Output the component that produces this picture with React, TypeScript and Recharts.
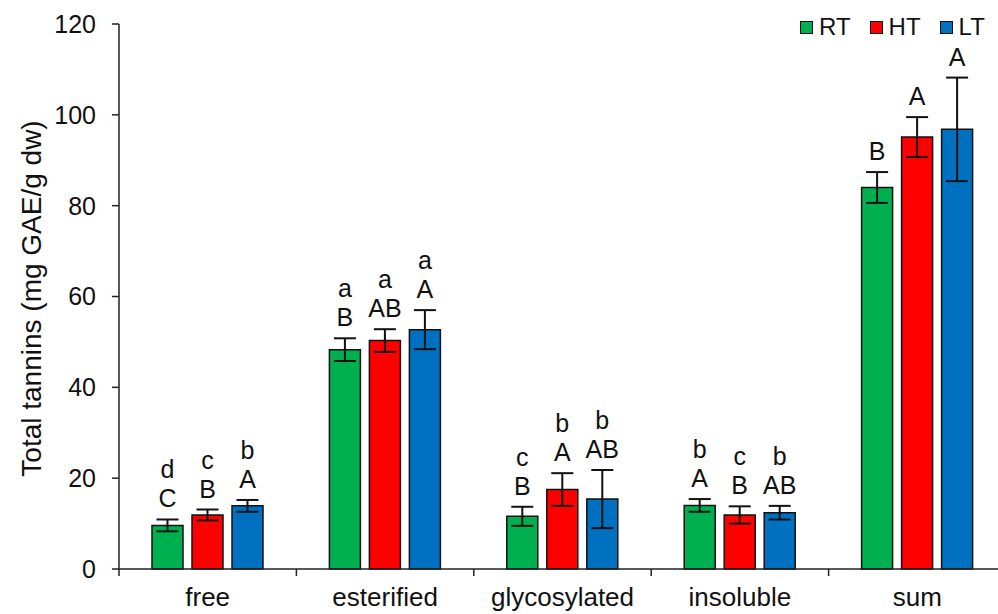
import React from 'react';
import { BarChart, Bar, XAxis, YAxis, ErrorBar, LabelList } from 'recharts';

// Fractions of total tannins (mg GAE/g dw) under three temperature regimes
const categories = ['free', 'esterified', 'glycosylated', 'insoluble', 'sum'];

const rtValues = [9.6, 48.3, 11.6, 14.0, 84.0];
const rtErrors = [1.3, 2.5, 2.1, 1.4, 3.4];
const htValues = [11.9, 50.3, 17.5, 11.9, 95.1];
const htErrors = [1.2, 2.5, 3.6, 1.9, 4.4];
const ltValues = [13.9, 52.7, 15.4, 12.4, 96.8];
const ltErrors = [1.3, 4.3, 6.4, 1.5, 11.4];

// Significance letters: upper-case line and lower-case line above each bar
const rtUpper = ['C', 'B', 'B', 'A', 'B'];
const htUpper = ['B', 'AB', 'A', 'B', 'A'];
const ltUpper = ['A', 'A', 'AB', 'AB', 'A'];
const rtLower = ['d', 'a', 'c', 'b', ''];
const htLower = ['c', 'a', 'b', 'c', ''];
const ltLower = ['b', 'a', 'b', 'b', ''];

const yTicks = [0, 20, 40, 60, 80, 100, 120];
// group boundaries (integers) and group centres (halves) on a 0..5 slot axis
const frameTicks = [0, 0.5, 1, 1.5, 2, 2.5, 3, 3.5, 4, 4.5, 5];

const FONT = '"Liberation Sans", Arial, Helvetica, sans-serif';

const series = [
  { key: 'RT', name: 'RT', color: '#00B050', values: rtValues, errors: rtErrors, upper: rtUpper, lower: rtLower },
  { key: 'HT', name: 'HT', color: '#FF0000', values: htValues, errors: htErrors, upper: htUpper, lower: htLower },
  { key: 'LT', name: 'LT', color: '#0070C0', values: ltValues, errors: ltErrors, upper: ltUpper, lower: ltLower },
];

const data = categories.map((name, i) => {
  const row: Record<string, string | number> = { name, slot: i + 0.5 };
  series.forEach((s) => {
    row[s.key] = s.values[i];
    row[s.key + 'Err'] = s.errors[i];
  });
  return row;
});

// Letters sit above the error bar cap; pixel scale taken from the bar itself
const makeLetters = (s: typeof series[number]) => (props: any) => {
  const vb = props.viewBox || {};
  const x = props.x ?? vb.x;
  const y = props.y ?? vb.y;
  const width = props.width ?? vb.width;
  const height = props.height ?? vb.height;
  const index = props.index;
  const value = s.values[index];
  if (x == null || y == null || !value) return null;
  const pxPerUnit = Math.abs(height) / value;
  const capTop = y - s.errors[index] * pxPerUnit;
  const cx = x + width / 2;
  const upperY = capTop - 12;
  const lowerY = upperY - 29;
  return (
    <g>
      <text x={cx} y={upperY} textAnchor="middle" fontFamily={FONT} fontSize={25} fill="#111">
        {s.upper[index]}
      </text>
      {s.lower[index] ? (
        <text x={cx} y={lowerY} textAnchor="middle" fontFamily={FONT} fontSize={25} fill="#111">
          {s.lower[index]}
        </text>
      ) : null}
    </g>
  );
};

// Category axis: tick marks at group boundaries, names at group centres
const FrameTick = (props: any) => {
  const { x, y, payload } = props;
  const v = payload.value as number;
  if (Number.isInteger(v)) {
    return <line x1={x} x2={x} y1={y} y2={y + 7} stroke="#222" strokeWidth={1.5} />;
  }
  return (
    <text x={x} y={y + 37} textAnchor="middle" fontFamily={FONT} fontSize={26} fill="#111">
      {categories[Math.floor(v)]}
    </text>
  );
};

const YTitle = (props: any) => {
  const vb = props.viewBox || {};
  const cy = (vb.y ?? 24) + (vb.height ?? 545) / 2 + 2;
  const cx = 31;
  return (
    <text
      x={cx}
      y={cy}
      transform={`rotate(-90, ${cx}, ${cy})`}
      textAnchor="middle"
      dominantBaseline="central"
      fontFamily={FONT}
      fontSize={28}
      fill="#111"
    >
      Total tannins (mg GAE/g dw)
    </text>
  );
};

export default function App() {
  return (
    <div
      style={{
        position: 'absolute',
        left: 0,
        top: 0,
        width: 998,
        height: 614,
        overflow: 'hidden',
        background: '#fff',
        fontFamily: FONT,
      }}
    >
      <BarChart
        width={1010}
        height={614}
        data={data}
        margin={{ top: 24, right: 4, bottom: 0, left: 0 }}
        barSize={31}
        barGap={9}
      >
        <XAxis xAxisId="cat" dataKey="name" hide height={0} />
        <XAxis
          xAxisId="frame"
          dataKey="slot"
          type="number"
          domain={[0, 5]}
          allowDataOverflow
          ticks={frameTicks}
          interval={0}
          allowDecimals
          tickLine={false}
          tickSize={0}
          tickMargin={0}
          height={45}
          axisLine={{ stroke: '#222', strokeWidth: 1.5 }}
          tick={<FrameTick />}
        />
        <YAxis
          width={119}
          domain={[0, 120]}
          ticks={yTicks}
          interval={0}
          tickSize={7}
          tickMargin={16}
          axisLine={{ stroke: '#222', strokeWidth: 1.5 }}
          tickLine={{ stroke: '#222', strokeWidth: 1.5 }}
          tick={{ fontSize: 25, fill: '#111', fontFamily: FONT }}
          label={<YTitle />}
        />
        {series.map((s) => (
          <Bar
            key={s.key}
            xAxisId="cat"
            dataKey={s.key}
            name={s.name}
            fill={s.color}
            stroke="#111"
            strokeWidth={1.5}
            isAnimationActive={false}
          >
            <ErrorBar dataKey={s.key + 'Err'} width={11} stroke="#111" strokeWidth={2} isAnimationActive={false} />
            <LabelList dataKey={s.key} content={makeLetters(s)} />
          </Bar>
        ))}
      </BarChart>
      <div
        style={{
          position: 'absolute',
          left: 800,
          top: 15,
          display: 'flex',
          alignItems: 'center',
          fontFamily: FONT,
          fontSize: 24,
          lineHeight: '24px',
          color: '#111',
        }}
      >
        {series.map((s) => (
          <div key={s.key} style={{ display: 'flex', alignItems: 'center', marginRight: 19 }}>
            <span
              style={{
                display: 'inline-block',
                width: 11,
                height: 11,
                background: s.color,
                border: '1.5px solid #111',
                marginRight: 6,
              }}
            />
            <span>{s.name}</span>
          </div>
        ))}
      </div>
    </div>
  );
}
